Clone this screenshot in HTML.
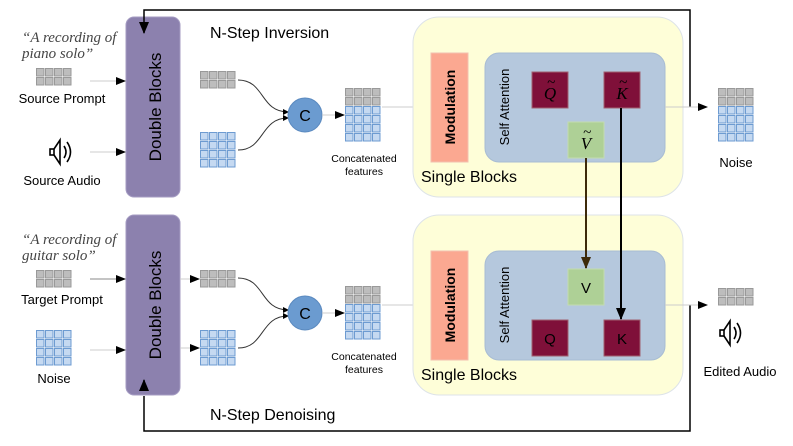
<!DOCTYPE html>
<html><head><meta charset="utf-8"><style>
body{margin:0;background:#fff}
svg{display:block;font-family:"Liberation Sans",sans-serif}
</style></head><body>
<svg width="793" height="446" viewBox="0 0 793 446" xmlns="http://www.w3.org/2000/svg">
<defs>
<g id="gr"><rect x="0.5" y="0.5" width="7.5" height="7.5" fill="#bdbdbd" stroke="#999"/><rect x="9.5" y="0.5" width="7.5" height="7.5" fill="#bdbdbd" stroke="#999"/><rect x="18.5" y="0.5" width="7.5" height="7.5" fill="#bdbdbd" stroke="#999"/><rect x="27.5" y="0.5" width="7.5" height="7.5" fill="#bdbdbd" stroke="#999"/></g>
<g id="bl"><rect x="0.5" y="0.5" width="7.5" height="7.5" fill="#c5d9f1" stroke="#6d9bd1"/><rect x="9.5" y="0.5" width="7.5" height="7.5" fill="#c5d9f1" stroke="#6d9bd1"/><rect x="18.5" y="0.5" width="7.5" height="7.5" fill="#c5d9f1" stroke="#6d9bd1"/><rect x="27.5" y="0.5" width="7.5" height="7.5" fill="#c5d9f1" stroke="#6d9bd1"/></g>
<g id="g2"><use href="#gr"/><use href="#gr" y="9"/></g>
<g id="b4"><use href="#bl"/><use href="#bl" y="9"/><use href="#bl" y="18"/><use href="#bl" y="27"/></g>
<g id="cat"><use href="#g2"/><use href="#b4" y="18"/></g>
<marker id="ah" markerWidth="10" markerHeight="8" refX="9" refY="4" orient="auto" markerUnits="userSpaceOnUse"><path d="M0,0 L10,4 L0,8z" fill="#000"/></marker>
<marker id="ahs" markerWidth="6" markerHeight="6" refX="5" refY="3" orient="auto" markerUnits="userSpaceOnUse"><path d="M0,0 L6,3 L0,6z" fill="#000"/></marker>
<marker id="ahb" markerWidth="12" markerHeight="10" refX="11" refY="5" orient="auto" markerUnits="userSpaceOnUse"><path d="M0,0 L12,5 L0,10z" fill="#3d2a0a"/></marker>
<marker id="ahk" markerWidth="12" markerHeight="10" refX="11" refY="5" orient="auto" markerUnits="userSpaceOnUse"><path d="M0,0 L12,5 L0,10z" fill="#000"/></marker>
<g id="spk" fill="none" stroke="#000" stroke-width="1.6"><rect x="-12" y="-3" width="4" height="6"/><path d="M-8,-3 L-2,-12 L-2,12 L-8,3"/><path d="M2,-6 Q6,0 2,6"/><path d="M5,-10 Q12,0 5,10"/></g>
</defs>

<rect x="126" y="17" width="54" height="180" rx="8" fill="#8c81ae" stroke="#a49bc2"/>
<rect x="126" y="215" width="54" height="180" rx="8" fill="#8c81ae" stroke="#a49bc2"/>
<text transform="translate(161,107) rotate(-90)" text-anchor="middle" font-size="17" fill="#000">Double Blocks</text>
<text transform="translate(161,305) rotate(-90)" text-anchor="middle" font-size="17" fill="#000">Double Blocks</text>

<path d="M690,107 V10 H144 V33" fill="none" stroke="#000" stroke-width="1.5" marker-end="url(#ahk)"/>
<path d="M690,305 V431 H144 V396" fill="none" stroke="#000" stroke-width="1.5"/>
<path d="M144,386 V380" fill="none" stroke="#000" stroke-width="1.5" marker-end="url(#ahk)"/>

<g font-family="Liberation Serif,serif" font-style="italic" font-size="15" fill="#444">
<text x="22" y="42">“A recording of</text><text x="22" y="58">piano solo”</text>
<text x="22" y="244">“A recording of</text><text x="22" y="260">guitar solo”</text>
</g>
<use href="#g2" x="36" y="68"/>
<text x="62" y="103" text-anchor="middle" font-size="13">Source Prompt</text>
<line x1="90" y1="81" x2="125" y2="81" stroke="#ccc" marker-end="url(#ah)"/>
<use href="#spk" x="62" y="152"/>
<text x="62" y="185" text-anchor="middle" font-size="13">Source Audio</text>
<line x1="90" y1="152" x2="125" y2="152" stroke="#ccc" marker-end="url(#ah)"/>

<use href="#g2" x="36" y="270"/>
<text x="62" y="304" text-anchor="middle" font-size="13">Target Prompt</text>
<line x1="90" y1="279" x2="125" y2="279" stroke="#888" marker-end="url(#ah)"/>
<use href="#b4" x="36" y="330"/>
<text x="54" y="383" text-anchor="middle" font-size="13">Noise</text>
<line x1="90" y1="350" x2="125" y2="350" stroke="#ccc" marker-end="url(#ah)"/>

<text x="210" y="38" font-size="16">N-Step Inversion</text>
<text x="210" y="420" font-size="16">N-Step Denoising</text>

<use href="#g2" x="200" y="71"/>
<use href="#b4" x="200" y="132"/>
<path d="M238,80 C265,80 260,112 288,112" fill="none" stroke="#333" marker-end="url(#ahs)"/>
<path d="M238,150 C265,150 260,118 288,118" fill="none" stroke="#333" marker-end="url(#ahs)"/>
<circle cx="305" cy="115" r="17" fill="#6b9bd0" stroke="#5a89bf"/>
<text x="305" y="121" text-anchor="middle" font-size="16">C</text>
<line x1="322" y1="115" x2="344" y2="115" stroke="#ccc" marker-end="url(#ah)"/>
<use href="#cat" x="345" y="88"/>
<text x="364" y="162" text-anchor="middle" font-size="10.5">Concatenated</text>
<text x="364" y="175" text-anchor="middle" font-size="10.5">features</text>
<line x1="382" y1="107" x2="424" y2="107" stroke="#ccc" marker-end="url(#ah)"/>

<line x1="180" y1="279" x2="199" y2="279" stroke="#ccc" marker-end="url(#ah)"/>
<line x1="180" y1="348" x2="199" y2="348" stroke="#ccc" marker-end="url(#ah)"/>
<use href="#g2" x="200" y="270"/>
<use href="#b4" x="200" y="330"/>
<path d="M238,278 C265,278 260,310 288,310" fill="none" stroke="#333" marker-end="url(#ahs)"/>
<path d="M238,348 C265,348 260,316 288,316" fill="none" stroke="#333" marker-end="url(#ahs)"/>
<circle cx="305" cy="313" r="17" fill="#6b9bd0" stroke="#5a89bf"/>
<text x="305" y="319" text-anchor="middle" font-size="16">C</text>
<line x1="322" y1="313" x2="344" y2="313" stroke="#ccc" marker-end="url(#ah)"/>
<use href="#cat" x="345" y="286"/>
<text x="364" y="360" text-anchor="middle" font-size="10.5">Concatenated</text>
<text x="364" y="373" text-anchor="middle" font-size="10.5">features</text>
<line x1="382" y1="305" x2="424" y2="305" stroke="#ccc" marker-end="url(#ah)"/>

<rect x="413" y="17" width="270" height="180" rx="26" fill="#fefed8" stroke="#dde3e8"/>
<rect x="431" y="53" width="37" height="109" fill="#fba891" stroke="#f3c0b0"/>
<text transform="translate(455,107) rotate(-90)" text-anchor="middle" font-size="14" font-weight="bold">Modulation</text>
<rect x="485" y="53" width="180" height="109" rx="14" fill="#b5c8dd" stroke="#a8bcd3"/>
<text transform="translate(509,107) rotate(-90)" text-anchor="middle" font-size="13">Self Attention</text>
<rect x="532" y="72" width="36" height="36" fill="#7f1039" stroke="#a06070"/>
<rect x="604" y="72" width="36" height="36" fill="#7f1039" stroke="#a06070"/>
<rect x="568" y="122" width="36" height="36" fill="#aed096" stroke="#c4dcb0"/>
<g font-family="Liberation Serif,serif" font-style="italic" font-size="17">
<text x="550" y="99" text-anchor="middle">Q</text><text x="551" y="87" text-anchor="middle" font-size="15">~</text>
<text x="622" y="99" text-anchor="middle">K</text><text x="623" y="87" text-anchor="middle" font-size="15">~</text>
<text x="586" y="149" text-anchor="middle">V</text><text x="587" y="137" text-anchor="middle" font-size="15">~</text>
</g>
<text x="421" y="182" font-size="16">Single Blocks</text>
<line x1="665" y1="107" x2="707" y2="107" stroke="#ccc" marker-end="url(#ah)"/>
<use href="#cat" x="718" y="88"/>
<text x="736" y="167" text-anchor="middle" font-size="13">Noise</text>

<rect x="413" y="215" width="270" height="180" rx="26" fill="#fefed8" stroke="#dde3e8"/>
<rect x="431" y="251" width="37" height="109" fill="#fba891" stroke="#f3c0b0"/>
<text transform="translate(455,305) rotate(-90)" text-anchor="middle" font-size="14" font-weight="bold">Modulation</text>
<rect x="485" y="251" width="180" height="109" rx="14" fill="#b5c8dd" stroke="#a8bcd3"/>
<text transform="translate(509,305) rotate(-90)" text-anchor="middle" font-size="13">Self Attention</text>
<rect x="568" y="269" width="36" height="36" fill="#aed096" stroke="#c4dcb0"/>
<rect x="532" y="320" width="36" height="36" fill="#7f1039" stroke="#a06070"/>
<rect x="604" y="320" width="36" height="36" fill="#7f1039" stroke="#a06070"/>
<text x="586" y="293" text-anchor="middle" font-size="15">V</text>
<text x="550" y="344" text-anchor="middle" font-size="15">Q</text>
<text x="622" y="344" text-anchor="middle" font-size="15">K</text>
<text x="421" y="380" font-size="16">Single Blocks</text>
<line x1="665" y1="305" x2="707" y2="305" stroke="#ccc" marker-end="url(#ah)"/>
<use href="#g2" x="718" y="288"/>
<use href="#spk" x="732" y="333"/>
<text x="740" y="376" text-anchor="middle" font-size="13">Edited Audio</text>

<line x1="586" y1="158" x2="586" y2="268" stroke="#3d2a0a" stroke-width="2" marker-end="url(#ahb)"/>
<line x1="621" y1="108" x2="621" y2="319" stroke="#000" stroke-width="2" marker-end="url(#ahk)"/>
</svg>
</body></html>
